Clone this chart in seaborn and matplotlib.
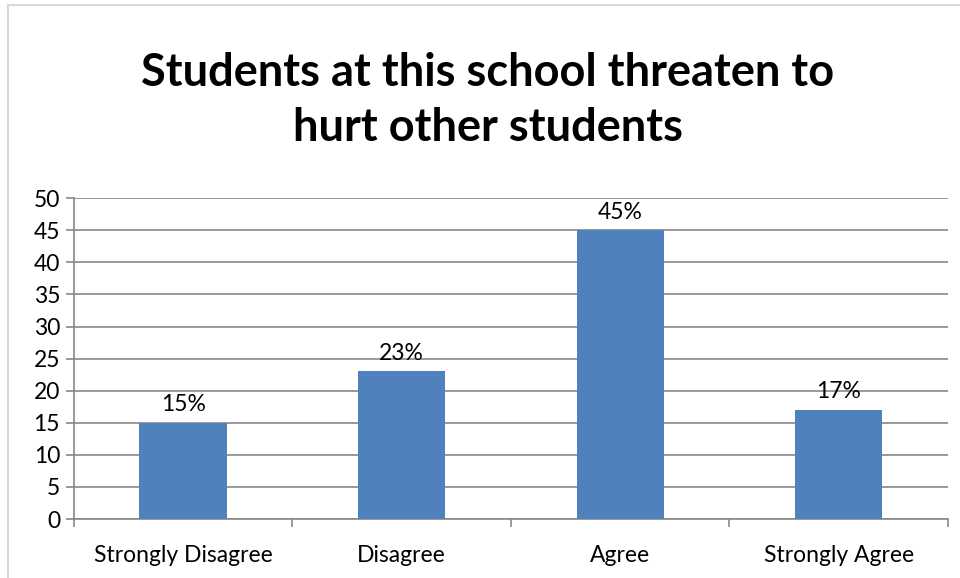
import numpy as np
import matplotlib
matplotlib.use("Agg")
import matplotlib.pyplot as plt
from matplotlib.patches import Rectangle
import pandas as pd
import seaborn as sns

# Chart data
categories = ["Strongly Disagree", "Disagree", "Agree", "Strongly Agree"]
values = [15, 23, 45, 17]
labels = ["15%", "23%", "45%", "17%"]

df = pd.DataFrame({"category": categories, "value": values})

sns.set_style("white")
plt.rcParams["font.family"] = ["Lato", "DejaVu Sans"]
plt.rcParams["text.color"] = "black"
plt.rcParams["xtick.color"] = "black"
plt.rcParams["ytick.color"] = "black"

fig = plt.figure(figsize=(9.6, 5.78), dpi=100)
ax = fig.add_axes([0.077, 0.102, 0.9105, 0.555])

# Light border around the chart
fig.patches.append(Rectangle((0.008, -0.01), 1.0, 1.0 - 0.008 + 0.01, transform=fig.transFigure,
                             fill=False, edgecolor="#d9d9d9", linewidth=1.5))

sns.barplot(data=df, x="category", y="value", color="#4f81bd", saturation=1,
            width=0.4, linewidth=0, ax=ax, zorder=3)

ax.set_ylim(0, 50)
ax.set_xlim(-0.5, len(categories) - 0.5)
ax.set_yticks(np.arange(0, 51, 5))
ax.yaxis.grid(True, color="#878787", linewidth=1.2, zorder=0)
ax.set_axisbelow(True)

for i, (v, lab) in enumerate(zip(values, labels)):
    ax.text(i, v + 1.2, lab, ha="center", va="bottom", fontsize=16.5, color="black")

# ticks: labels at centers, marks at category borders
ax.tick_params(axis="x", which="major", length=0, pad=19, labelsize=16.5, labelcolor="black")
ax.set_xticks(np.arange(-0.5, len(categories)), minor=True)
ax.tick_params(axis="x", which="minor", length=6, width=1.2, color="#878787", direction="out")
ax.tick_params(axis="y", length=6, width=1.2, color="#878787", direction="out",
               labelsize=16.5, pad=4, labelcolor="black")
ax.xaxis.set_ticks_position("bottom")
ax.yaxis.set_ticks_position("left")

for side in ["top", "right"]:
    ax.spines[side].set_visible(False)
for side in ["left", "bottom"]:
    ax.spines[side].set_color("#878787")
    ax.spines[side].set_linewidth(1.2)

ax.set_xlabel("")
ax.set_ylabel("")

fig.text(0.508, 0.826, "Students at this school threaten to\nhurt other students",
         ha="center", va="center", fontsize=32.5, fontweight="bold", linespacing=1.4,
         color="black")

fig.savefig("out.png", dpi=100, facecolor="white")
